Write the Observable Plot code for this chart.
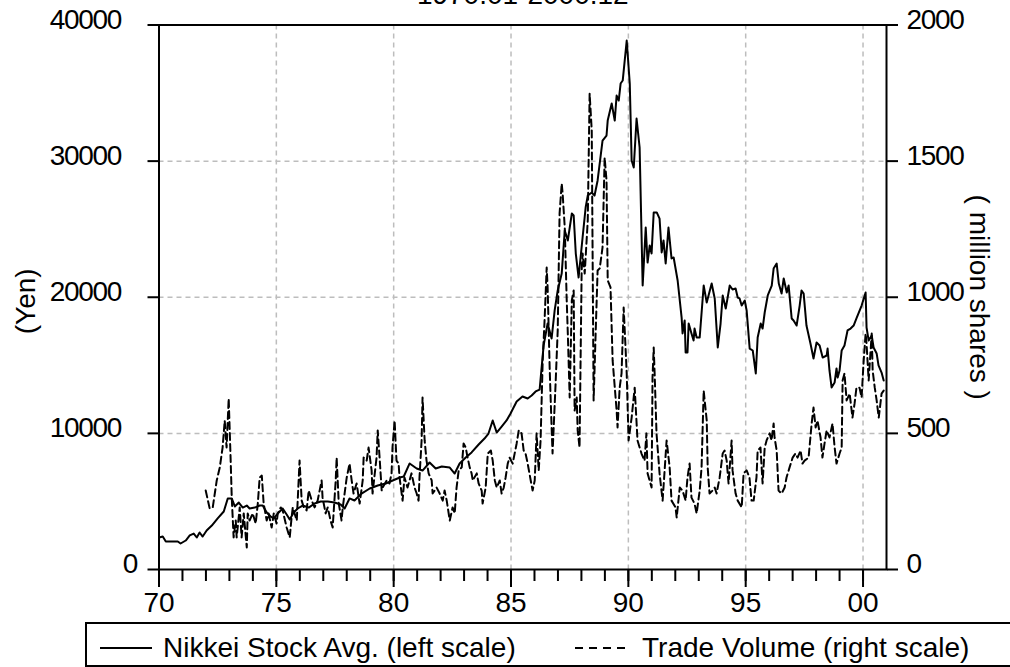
<!DOCTYPE html>
<html><head><meta charset="utf-8">
<script src="https://cdn.jsdelivr.net/npm/d3@7"></script>
<script src="https://cdn.jsdelivr.net/npm/@observablehq/plot@0.6"></script>
<style>
body{margin:0;background:#fff;font-family:"Liberation Sans",Arial,sans-serif;}
#chart svg{display:block}
#legend svg{display:block}
#chart g[aria-label="y-axis tick label"] text{letter-spacing:-1.3px}
</style></head><body>
<div id="chart"></div>
<div id="legend"></div>
<script>
const titleText = "1970.01-2000.12";
const leftLabel = "(Yen)";
const rightLabel = "( million shares )";
const seriesNames = ["Nikkei Stock Avg. (left scale)", "Trade Volume (right scale)"];

const nikkeiT = [1970.01,1970.16,1970.29,1970.80,1970.92,1971.14,1971.31,1971.48,1971.61,1971.73,
1971.86,1972.03,1972.25,1972.50,1972.76,1972.93,1973.10,1973.23,1973.40,1973.57,
1973.74,1973.86,1974.08,1974.29,1974.42,1974.59,1974.76,1974.89,1975.06,1975.27,
1975.44,1975.57,1975.74,1975.91,1976.12,1976.38,1976.63,1976.89,1977.19,1977.48,
1977.74,1977.91,1978.12,1978.33,1978.63,1978.98,1979.32,1979.66,1979.96,1980.26,
1980.43,1980.68,1980.98,1981.23,1981.53,1981.79,1982.05,1982.39,1982.60,1982.81,
1983.07,1983.32,1983.62,1983.87,1984.04,1984.22,1984.39,1984.60,1984.81,1984.98,
1985.24,1985.49,1985.71,1985.88,1986.05,1986.22,1986.39,1986.56,1986.73,1986.86,
1986.99,1987.16,1987.29,1987.42,1987.59,1987.67,1987.76,1987.88,1988.05,1988.18,
1988.27,1988.44,1988.56,1988.69,1988.90,1989.07,1989.12,1989.29,1989.42,1989.50,
1989.59,1989.67,1989.76,1989.93,1990.06,1990.14,1990.23,1990.35,1990.48,1990.61,
1990.74,1990.82,1990.91,1990.99,1991.08,1991.21,1991.33,1991.42,1991.50,1991.59,
1991.71,1991.84,1991.93,1992.10,1992.27,1992.31,1992.40,1992.44,1992.52,1992.57,
1992.69,1992.78,1992.82,1992.91,1993.04,1993.21,1993.34,1993.55,1993.68,1993.81,
1993.93,1994.02,1994.15,1994.32,1994.44,1994.57,1994.66,1994.74,1994.83,1994.96,
1995.04,1995.17,1995.30,1995.43,1995.51,1995.64,1995.72,1995.81,1995.94,1996.11,
1996.19,1996.32,1996.41,1996.53,1996.62,1996.75,1996.83,1996.96,1997.04,1997.17,
1997.30,1997.38,1997.47,1997.59,1997.76,1997.89,1998.02,1998.15,1998.28,1998.45,
1998.49,1998.57,1998.66,1998.79,1998.87,1998.92,1999.00,1999.09,1999.21,1999.34,
1999.47,1999.60,1999.72,1999.94,2000.11,2000.15,2000.24,2000.37,2000.45,2000.58,
2000.66,2000.79,2000.88];
const nikkeiV = [2350,2420,2060,2060,1910,2130,2500,2640,2350,2720,
2420,2860,3230,3750,4260,5220,5220,4630,4920,4550,
4700,4480,4550,4700,4700,4190,3890,3750,4110,4480,
4040,3670,4190,4480,4700,4550,4850,5000,5000,4920,
4770,4480,5220,5070,5580,5950,6170,6320,6540,6760,
6830,7790,7420,7270,7860,7420,7570,7490,7050,7790,
8230,8600,9180,9620,9990,10950,10060,10500,10950,11460,
12340,12710,12560,12780,13080,13220,16460,18070,16970,19030,
20500,21740,24900,24170,26150,26010,23210,21450,24390,26590,
27470,27690,27470,28580,31510,31880,32980,34230,32980,34820,
34450,35700,35920,38860,35700,30050,29530,33130,31000,20860,
25120,22550,23800,23210,26230,26230,25780,23290,24170,22480,
25120,22850,22920,21230,18510,17340,18290,15940,15940,18070,
17340,16820,17700,17040,17040,20860,19610,21010,19910,16310,
18070,20130,19170,20860,20570,20640,19980,19910,19390,19760,
19030,16230,16090,14400,17040,18070,17700,18880,20130,20860,
22110,22480,21010,20270,21380,20350,20860,18440,18290,17920,
19390,20500,20270,17920,16600,15500,16680,16460,15570,15720,
16230,14620,13370,13740,14770,14100,14620,16090,16460,17560,
17700,17920,18440,19390,20350,17780,16820,17190,16310,15870,
14990,14470,13880];

const volumeT = [1971.99,1972.16,1972.29,1972.46,1972.59,1972.71,1972.80,1972.88,1972.97,1973.05,
1973.10,1973.18,1973.27,1973.31,1973.44,1973.52,1973.61,1973.74,1973.78,1973.86,
1973.99,1974.12,1974.21,1974.29,1974.38,1974.46,1974.59,1974.67,1974.80,1974.89,
1975.01,1975.06,1975.19,1975.27,1975.44,1975.57,1975.65,1975.70,1975.87,1975.99,
1976.08,1976.17,1976.29,1976.38,1976.51,1976.63,1976.76,1976.93,1976.97,1977.10,
1977.19,1977.31,1977.40,1977.53,1977.57,1977.66,1977.78,1977.83,1978.00,1978.12,
1978.21,1978.29,1978.42,1978.55,1978.68,1978.72,1978.85,1978.93,1979.06,1979.10,
1979.27,1979.32,1979.40,1979.49,1979.53,1979.70,1979.82,1979.91,1979.95,1980.04,
1980.12,1980.21,1980.25,1980.38,1980.46,1980.59,1980.76,1980.89,1980.98,1981.06,
1981.10,1981.19,1981.23,1981.32,1981.40,1981.49,1981.62,1981.66,1981.83,1981.96,
1982.09,1982.17,1982.26,1982.39,1982.51,1982.60,1982.68,1982.77,1982.90,1982.98,
1983.07,1983.15,1983.24,1983.32,1983.37,1983.54,1983.62,1983.75,1983.79,1983.92,
1984.01,1984.14,1984.22,1984.31,1984.39,1984.52,1984.60,1984.69,1984.77,1984.86,
1984.94,1985.07,1985.24,1985.33,1985.45,1985.54,1985.62,1985.71,1985.84,1985.92,
1986.01,1986.09,1986.18,1986.26,1986.35,1986.43,1986.52,1986.56,1986.65,1986.73,
1986.77,1986.90,1986.99,1987.07,1987.16,1987.20,1987.29,1987.37,1987.42,1987.50,
1987.59,1987.67,1987.71,1987.80,1987.84,1987.92,1988.01,1988.05,1988.14,1988.27,
1988.35,1988.44,1988.52,1988.61,1988.69,1988.78,1988.90,1988.99,1989.07,1989.12,
1989.24,1989.33,1989.50,1989.54,1989.63,1989.71,1989.80,1989.88,1989.93,1990.01,
1990.14,1990.27,1990.39,1990.56,1990.69,1990.77,1990.82,1990.99,1991.03,1991.08,
1991.12,1991.20,1991.33,1991.46,1991.63,1991.76,1991.84,1992.01,1992.06,1992.19,
1992.31,1992.44,1992.52,1992.61,1992.69,1992.82,1992.91,1993.04,1993.12,1993.21,
1993.34,1993.38,1993.46,1993.59,1993.68,1993.76,1993.89,1994.02,1994.10,1994.19,
1994.27,1994.40,1994.44,1994.57,1994.66,1994.83,1994.91,1995.04,1995.16,1995.25,
1995.34,1995.46,1995.51,1995.63,1995.72,1995.81,1995.89,1996.02,1996.10,1996.19,
1996.23,1996.32,1996.40,1996.53,1996.66,1996.74,1996.87,1997.00,1997.12,1997.21,
1997.34,1997.42,1997.51,1997.68,1997.81,1997.89,1997.98,1998.06,1998.19,1998.27,
1998.36,1998.45,1998.57,1998.70,1998.79,1998.87,1999.00,1999.09,1999.13,1999.21,
1999.30,1999.43,1999.55,1999.64,1999.72,1999.85,1999.94,2000.02,2000.11,2000.15,
2000.24,2000.37,2000.41,2000.50,2000.58,2000.67,2000.79,2000.88];
const volumeV = [290,224,228,327,375,448,547,448,628,411,
264,118,180,118,228,118,206,81,206,180,
206,169,242,338,345,242,180,206,154,206,
169,206,228,217,154,118,191,228,180,400,
253,228,217,290,253,228,253,327,264,206,
228,180,154,327,411,242,180,228,338,389,
327,279,316,242,327,411,400,448,364,279,
411,511,411,290,301,327,316,353,448,547,
400,389,338,253,338,301,353,301,279,253,
338,474,632,474,400,353,327,279,301,279,
253,290,253,180,228,206,301,364,375,463,
448,411,375,353,327,353,316,290,242,301,
426,437,400,327,301,327,279,301,338,389,
411,389,463,511,500,437,426,389,327,290,
327,500,364,474,768,915,1109,1036,731,522,
426,683,878,1308,1418,1381,1256,999,867,632,
988,1025,584,632,511,448,1098,1161,1087,1282,
1748,1612,621,878,1098,1106,1183,1513,1429,1062,
1036,768,584,522,668,720,962,815,720,474,
558,668,474,426,400,500,353,301,705,815,
720,500,353,253,474,375,253,228,191,301,
290,253,338,389,264,242,206,290,375,657,
547,375,279,290,301,279,338,426,437,400,
316,474,364,279,253,228,353,364,338,253,
253,338,437,448,316,448,474,500,474,536,
485,437,290,279,301,338,375,411,426,411,
437,389,400,411,536,595,522,547,485,411,
463,511,485,536,448,389,426,448,694,720,
621,646,558,610,668,668,632,757,867,830,
694,867,731,668,621,558,646,657];

const leftTicks = [0, 10000, 20000, 30000, 40000];
const rightTicks = [0, 500, 1000, 1500, 2000];
const majorYears = [1970, 1975, 1980, 1985, 1990, 1995, 2000];
const minorYears = d3.range(1970, 2001);
const RATIO = 40000 / 2000; // left units per right unit

const nikkei = d3.range(Math.min(nikkeiT.length, nikkeiV.length)).map(i => ({t: nikkeiT[i], v: nikkeiV[i]}));
const volume = d3.range(Math.min(volumeT.length, volumeV.length)).map(i => ({t: volumeT[i], v: volumeV[i]}));

const FONT = "'Liberation Sans', Arial, sans-serif";
const FS = 28;
const gridStyle = {stroke: "#bdbdbd", strokeOpacity: 1, strokeWidth: 1.5, strokeDasharray: "5,4"};

const plot = Plot.plot({
  width: 1010, height: 622,
  marginLeft: 158.5, marginRight: 124, marginTop: 24.5, marginBottom: 53,
  x: {domain: [1970, 2001]},
  y: {domain: [0, 40000]},
  style: {fontFamily: FONT, fontSize: FS + "px", color: "black", background: "white", overflow: "visible"},
  marks: [
    Plot.gridX(majorYears.slice(1), gridStyle),
    Plot.gridY(leftTicks.slice(1, 4), gridStyle),
    Plot.line(volume, {x: "t", y: d => d.v * RATIO, stroke: "black", strokeWidth: 2, strokeDasharray: "7,4"}),
    Plot.line(nikkei, {x: "t", y: "v", stroke: "black", strokeWidth: 2}),
    Plot.frame({stroke: "black", strokeWidth: 2}),
    // x axis: minor and major ticks, then labels
    Plot.axisX(minorYears, {anchor: "bottom", tickSize: 12, strokeWidth: 2, tickFormat: () => "", label: null}),
    Plot.axisX(majorYears, {anchor: "bottom", tickSize: 18, strokeWidth: 2, tickFormat: () => "", label: null}),
    Plot.text(majorYears, {x: d => d, frameAnchor: "bottom", dy: 23, lineAnchor: "top", fontSize: FS,
      text: d => String(d % 100).padStart(2, "0")}),
    // left axis
    Plot.axisY(leftTicks, {anchor: "left", tickSize: 11, strokeWidth: 2, tickFormat: () => "", label: null}),
    Plot.axisY(leftTicks.slice(1), {anchor: "left", tickSize: 0, tickPadding: 38, dy: -5, fontSize: FS,
      tickFormat: d3.format("d"), label: null}),
    Plot.axisY([0], {anchor: "left", tickSize: 0, tickPadding: 22, dy: -5, fontSize: FS,
      tickFormat: d3.format("d"), label: null}),
    // right axis (volume)
    Plot.axisY(rightTicks.map(d => d * RATIO), {anchor: "right", tickSize: 11, strokeWidth: 2, tickFormat: () => "", label: null}),
    Plot.axisY(rightTicks.map(d => d * RATIO), {anchor: "right", tickSize: 0, tickPadding: 20, dy: -5, fontSize: FS,
      tickFormat: d => d3.format("d")(d / RATIO), label: null}),
    // axis titles
    Plot.text([leftLabel], {frameAnchor: "left", textAnchor: "middle", rotate: -90, dx: -133, dy: 4, fontSize: FS}),
    Plot.text([rightLabel], {frameAnchor: "right", textAnchor: "middle", rotate: 90, dx: 92, fontSize: FS}),
    // title (mostly above the visible area, as in the reference)
    Plot.text([titleText], {frameAnchor: "top", textAnchor: "middle", dy: -21.5, lineAnchor: "bottom", fontSize: FS})
  ]
});
document.getElementById("chart").appendChild(plot);

// legend below the chart
const lg = d3.select("#legend").append("svg").attr("width", 1010).attr("height", 45);
lg.append("rect").attr("x", 86).attr("y", 1).attr("width", 1000).attr("height", 43)
  .attr("fill", "none").attr("stroke", "black").attr("stroke-width", 2);
lg.append("line").attr("x1", 100).attr("x2", 152).attr("y1", 26).attr("y2", 26)
  .attr("stroke", "black").attr("stroke-width", 2);
lg.append("text").attr("x", 163).attr("y", 34.5).attr("font-family", FONT).attr("font-size", FS)
  .text(seriesNames[0]);
lg.append("line").attr("x1", 575).attr("x2", 629).attr("y1", 26).attr("y2", 26)
  .attr("stroke", "black").attr("stroke-width", 2).attr("stroke-dasharray", "8,6");
lg.append("text").attr("x", 642).attr("y", 34.5).attr("font-family", FONT).attr("font-size", FS)
  .text(seriesNames[1]);
</script>
</body></html>
